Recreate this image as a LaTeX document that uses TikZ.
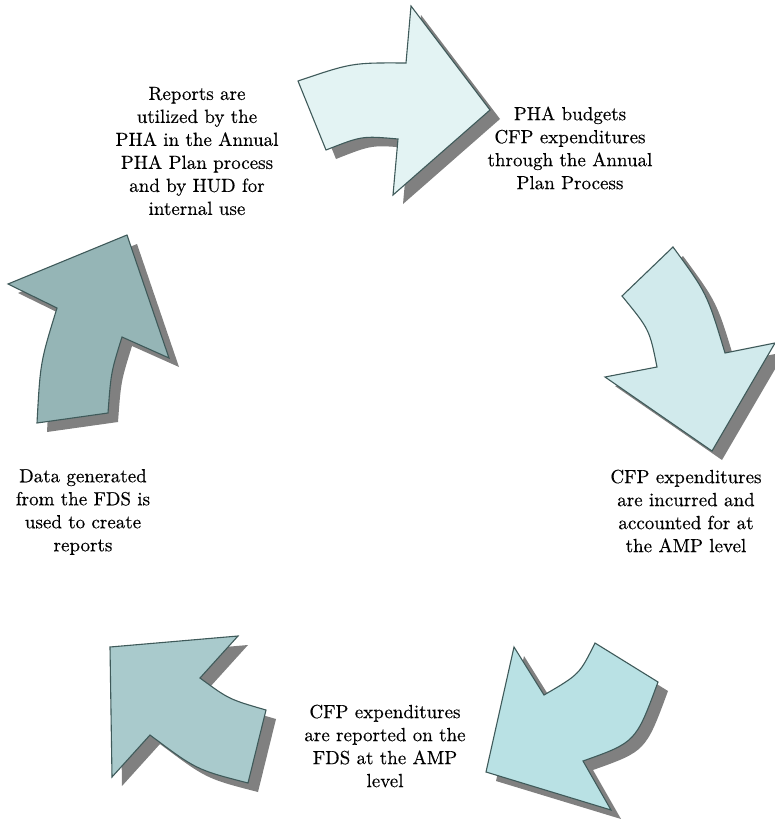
\documentclass[tikz,border=0pt]{standalone}
\usepackage{fontspec}
\newfontfamily\timesfont{lmroman10-regular.otf}[FakeBold=0.35]
\definecolor{arrowline}{HTML}{3F5A5A}
\definecolor{shadowgray}{HTML}{808080}
\definecolor{fillA}{HTML}{E3F3F3}
\definecolor{fillB}{HTML}{D1EAEC}
\definecolor{fillC}{HTML}{B9E1E4}
\definecolor{fillD}{HTML}{A9CACC}
\definecolor{fillE}{HTML}{95B5B6}
\tikzset{
  arrowbody/.style={draw=arrowline, line width=1.1pt, line join=miter},
  arrowshadow/.style={fill=shadowgray, shift={(10,9)}},
  steptext/.style={align=center, inner sep=0pt, font=\timesfont\fontsize{19}{23}\selectfont}
}
\def\pathA{(298,81) .. controls (352,62.7) .. (406,63) -- (411,6) -- (490,110) -- (393,195) -- (398,139) .. controls (362,135.8) .. (326,150) -- cycle}
\def\pathB{(673,247) .. controls (707,293.3) .. (725,353) -- (775,343) -- (712,451) -- (605,377) -- (657,367) .. controls (649.5,329.5) .. (622,296) -- cycle}
\def\pathC{(595,643) -- (658,682) .. controls (635.8,742.2) .. (583,761) -- (611,810) -- (486,772) -- (514,647) -- (544,695) .. controls (579.5,674.3) .. (595,643) -- cycle}
\def\pathD{(266,710) -- (248,783) .. controls (196.3,769.7) .. (150,735) -- (112,777) -- (110,647) -- (238,636) -- (200,678) .. controls (229,699.3) .. (266,710) -- cycle}
\def\pathE{(37,423) .. controls (40.3,362.2) .. (57,308) -- (8,284) -- (127,235) -- (169,358) -- (122,337) .. controls (111,372.3) .. (108,413) -- cycle}
\begin{document}
\begin{tikzpicture}[x=1pt,y=-1pt]
\useasboundingbox (0,0) rectangle (775,819);
\begin{scope}
\clip (0,0) rectangle (775,819);
\fill[arrowshadow] \pathA;
\fill[arrowshadow] \pathB;
\fill[arrowshadow] \pathC;
\fill[arrowshadow] \pathD;
\fill[arrowshadow] \pathE;
\filldraw[arrowbody, fill=fillA] \pathA;
\filldraw[arrowbody, fill=fillB] \pathB;
\filldraw[arrowbody, fill=fillC] \pathC;
\filldraw[arrowbody, fill=fillD] \pathD;
\filldraw[arrowbody, fill=fillE] \pathE;
\end{scope}
\node[steptext] (t1) at (197,151) {Reports are\\utilized by the\\PHA in the Annual\\PHA Plan process\\and by HUD for\\internal use};
\node[steptext] (t2) at (570,148) {PHA budgets\\CFP expenditures\\through the Annual\\Plan Process};
\node[steptext] (t3) at (686,511) {CFP expenditures\\are incurred and\\accounted for at\\the AMP level};
\node[steptext] (t4) at (385,746) {CFP expenditures\\are reported on the\\FDS at the AMP\\level};
\node[steptext] (t5) at (83,512) {Data generated\\from the FDS is\\used to create\\reports};
\end{tikzpicture}
\end{document}
